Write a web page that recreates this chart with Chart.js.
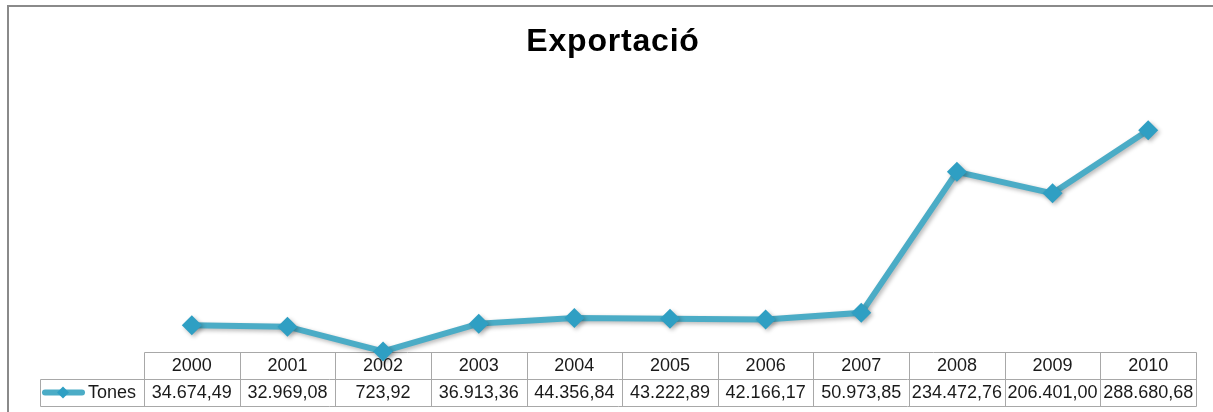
<!DOCTYPE html>
<html>
<head>
<meta charset="utf-8">
<script src="https://cdn.jsdelivr.net/npm/chart.js@4/dist/chart.umd.min.js"></script>
<style>
  html, body { margin: 0; padding: 0; background: #ffffff; }
  #wrap { width: 1213px; height: 412px; position: relative; }
  canvas { display: block; }
</style>
</head>
<body>
<div id="wrap"><canvas id="chart" width="1213" height="412"></canvas></div>
<script>
// Export volumes per year (tones)
const chartTitle = 'Exportació';
const seriesName = 'Tones';
const years = ['2000', '2001', '2002', '2003', '2004', '2005', '2006', '2007', '2008', '2009', '2010'];
const tones = [34674.49, 32969.08, 723.92, 36913.36, 44356.84, 43222.89, 42166.17, 50973.85, 234472.76, 206401.00, 288680.68];
const yMin = 0;
const yMax = 350000;

const lineColor = '#4bacc6';
const markerColor = '#2f9fc3';
const tableFont = '18px "Liberation Sans", Arial, sans-serif';

// Number format used in the data table: 1.234,56
function fmt(v) {
  const parts = v.toFixed(2).split('.');
  return parts[0].replace(/\B(?=(\d{3})+(?!\d))/g, '.') + ',' + parts[1];
}

// Gray frame around the whole chart and the bold title
const framePlugin = {
  id: 'frame',
  beforeDraw(chart) {
    const { ctx } = chart;
    ctx.save();
    ctx.fillStyle = '#ffffff';
    ctx.fillRect(0, 0, chart.width, chart.height);
    ctx.strokeStyle = '#8a8a8a';
    ctx.lineWidth = 2;
    ctx.strokeRect(8, 6, chart.width + 20, chart.height + 20);
    ctx.fillStyle = '#000000';
    ctx.font = 'bold 32px "Liberation Sans", Arial, sans-serif';
    ctx.letterSpacing = '0.8px';
    ctx.textAlign = 'center';
    ctx.textBaseline = 'alphabetic';
    ctx.fillText(chartTitle, 613, 51);
    ctx.restore();
  }
};

// Data table under the plot: one column per category, aligned with the x scale
const tablePlugin = {
  id: 'dataTable',
  beforeDatasetsDraw(chart) {
    const { ctx, chartArea } = chart;
    const x = chart.scales.x;
    const n = years.length;
    const step = x.getPixelForValue(1) - x.getPixelForValue(0);
    const left = x.getPixelForValue(0) - step / 2;
    const right = x.getPixelForValue(n - 1) + step / 2;
    const top = chartArea.bottom;
    const mid = top + 27;
    const bot = mid + 27;
    const legLeft = 40;
    const c = v => Math.round(v) + 0.5;

    ctx.save();
    ctx.strokeStyle = '#a8a8a8';
    ctx.lineWidth = 1;
    ctx.beginPath();
    // horizontal rules
    ctx.moveTo(c(left), c(top)); ctx.lineTo(c(right), c(top));
    ctx.moveTo(c(legLeft), c(mid)); ctx.lineTo(c(right), c(mid));
    ctx.moveTo(c(legLeft), c(bot)); ctx.lineTo(c(right), c(bot));
    // vertical rules
    ctx.moveTo(c(legLeft), c(mid)); ctx.lineTo(c(legLeft), c(bot));
    for (let i = 0; i <= n; i++) {
      const xx = left + i * step;
      ctx.moveTo(c(xx), c(top)); ctx.lineTo(c(xx), c(bot));
    }
    ctx.stroke();

    ctx.fillStyle = '#1a1a1a';
    ctx.font = tableFont;
    ctx.textAlign = 'center';
    ctx.textBaseline = 'middle';
    for (let i = 0; i < n; i++) {
      const cx = x.getPixelForValue(i);
      ctx.fillText(years[i], cx, (top + mid) / 2 + 1);
      ctx.fillText(fmt(tones[i]), cx, (mid + bot) / 2 + 1);
    }

    // legend key inside the first data-row cell
    const ky = (mid + bot) / 2;
    ctx.strokeStyle = lineColor;
    ctx.lineWidth = 6;
    ctx.lineCap = 'round';
    ctx.beginPath();
    ctx.moveTo(45, ky); ctx.lineTo(82, ky);
    ctx.stroke();
    ctx.fillStyle = markerColor;
    ctx.beginPath();
    ctx.moveTo(63, ky - 6); ctx.lineTo(69, ky); ctx.lineTo(63, ky + 6); ctx.lineTo(57, ky);
    ctx.closePath();
    ctx.fill();
    ctx.fillStyle = '#1a1a1a';
    ctx.textAlign = 'left';
    ctx.fillText(seriesName, 88, ky + 1);
    ctx.restore();
  }
};

// Soft drop shadow under the line and its markers
const shadowPlugin = {
  id: 'lineShadow',
  beforeDatasetDraw(chart) {
    const ctx = chart.ctx;
    ctx.save();
    ctx.shadowColor = 'rgba(0,0,0,0.28)';
    ctx.shadowBlur = 4;
    ctx.shadowOffsetX = 2;
    ctx.shadowOffsetY = 2;
  },
  afterDatasetDraw(chart) {
    chart.ctx.restore();
  }
};

new Chart(document.getElementById('chart'), {
  type: 'line',
  data: {
    labels: years,
    datasets: [{
      label: seriesName,
      data: tones,
      borderColor: lineColor,
      borderWidth: 6,
      backgroundColor: markerColor,
      pointStyle: 'rectRot',
      pointRadius: 10,
      pointBorderWidth: 0,
      pointBackgroundColor: markerColor,
      tension: 0,
      clip: false
    }]
  },
  options: {
    responsive: false,
    animation: false,
    devicePixelRatio: 1,
    layout: { padding: { top: 83, left: 144, right: 17, bottom: 60 } },
    scales: {
      x: { type: 'category', offset: true, display: false },
      y: { type: 'linear', min: yMin, max: yMax, display: false }
    },
    plugins: {
      legend: { display: false },
      title: { display: false },
      tooltip: { enabled: false }
    }
  },
  plugins: [framePlugin, tablePlugin, shadowPlugin]
});
</script>
</body>
</html>
